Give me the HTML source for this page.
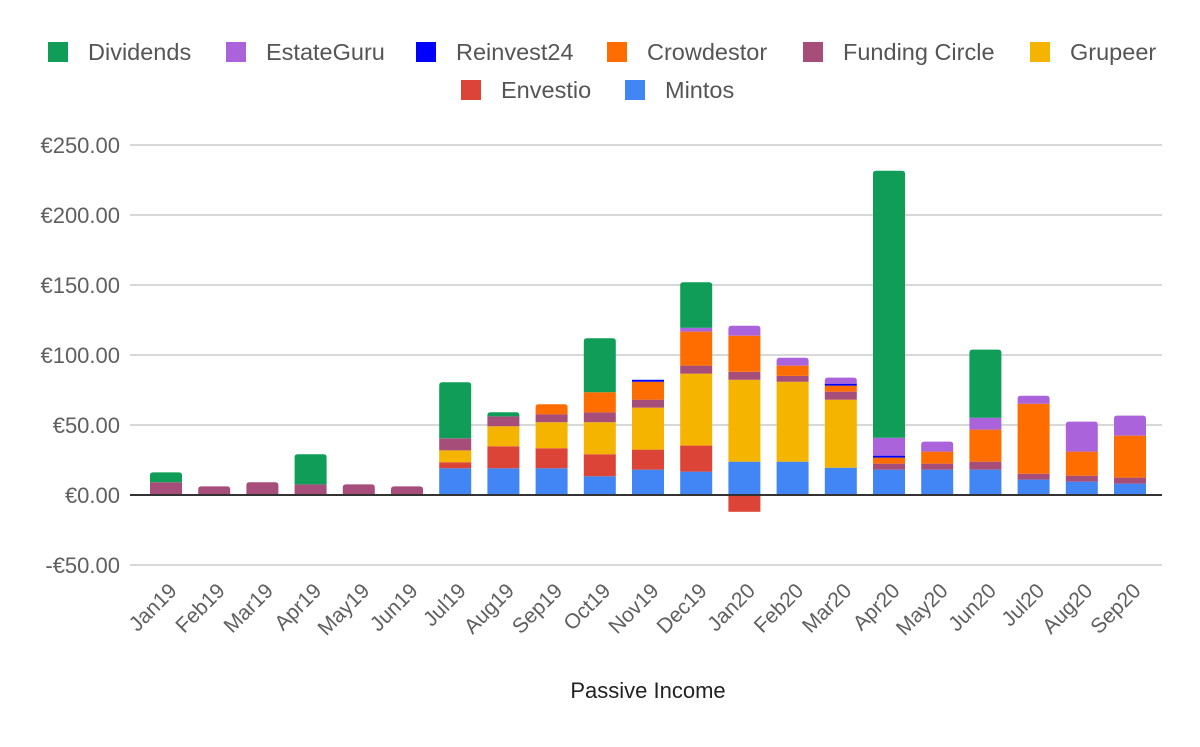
<!DOCTYPE html>
<html><head><meta charset="utf-8"><style>
body{margin:0;background:#fff;font-family:"Liberation Sans",sans-serif}
svg text{font-family:"Liberation Sans",sans-serif}
</style></head><body>
<svg id="chart" width="1200" height="742">
<rect width="1200" height="742" fill="#fff"/>
<g id="grid"></g><g id="bars"></g><g id="xlabels"></g><g id="legend"></g>
<line x1="130" x2="1162" y1="495" y2="495" stroke="#333" stroke-width="2"/>
<text x="648" y="698" text-anchor="middle" font-size="22" fill="#222">Passive Income</text>
</svg>
<script>
const months=["Jan19","Feb19","Mar19","Apr19","May19","Jun19","Jul19","Aug19","Sep19","Oct19","Nov19","Dec19","Jan20","Feb20","Mar20","Apr20","May20","Jun20","Jul20","Aug20","Sep20"];
const mintos=[0,0,0,0,0,0,19.1,19.1,19.1,13.4,18.1,16.7,23.8,23.8,19.5,18.1,18.1,18.1,11,9.5,8.1];
const envestio=[0,0,0,0,0,0,4.3,15.7,14.3,15.7,14.3,18.6,-12,0,0,0,0,0,0,0,0];
const grupeer=[0,0,0,0,0,0,8.5,14.3,18.6,22.9,30,51.4,58.5,57.1,48.6,0,0,0,0,0,0];
const fundingCircle=[9.1,6.2,9.1,7.6,7.6,6.2,8.6,7.1,5.6,7,5.7,5.7,5.7,4.2,5.7,4.3,4.3,5.7,4.2,4.3,4.3];
const crowdestor=[0,0,0,0,0,0,0,0,7.2,14.4,12.8,24.3,25.8,7.3,4.3,4.3,8.6,22.9,50,17.2,30];
const reinvest24=[0,0,0,0,0,0,0,0,0,0,1.4,0,0,0,1.4,1.4,0,0,0,0,0];
const estateGuru=[0,0,0,0,0,0,0,0,0,0,0,2.8,7.1,5.6,4.3,12.8,7.1,8.5,5.7,21.4,14.3];
const dividends=[7.1,0,0,21.5,0,0,40,2.9,0,38.6,0,32.5,0,0,0,190.7,0,48.6,0,0,0];
const yTicks=[-50,0,50,100,150,200,250];
const yTickLabels=["-€50.00","€0.00","€50.00","€100.00","€150.00","€200.00","€250.00"];
const seriesNames=["Mintos","Envestio","Grupeer","Funding Circle","Crowdestor","Reinvest24","EstateGuru","Dividends"];
const seriesData=[mintos,envestio,grupeer,fundingCircle,crowdestor,reinvest24,estateGuru,dividends];
const colors=["#4285f4","#db4437","#f4b400","#a64d79","#ff6d00","#0000ff","#ab63dc","#0f9d58"];
const NS="http://www.w3.org/2000/svg";
const y=v=>495-v*1.4;
const xc=i=>166+i*48.2;
const bw=32;
function mk(tag,attrs,parent){const e=document.createElementNS(NS,tag);for(const k in attrs)e.setAttribute(k,attrs[k]);parent.appendChild(e);return e;}
const grid=document.getElementById('grid');
yTicks.forEach((t,i)=>{
  if(t!==0){const l=mk('line',{x1:130,x2:1162,y1:y(t),y2:y(t),stroke:'#ccc','stroke-width':1.5},grid);
  
  }
  const tx=mk('text',{x:120,y:y(t)+8,'text-anchor':'end','font-size':22,fill:'#5f5f5f'},grid);
  tx.textContent=yTickLabels[i];
  
  
});
const bars=document.getElementById('bars');
months.forEach((m,i)=>{
  let pos=0,neg=0;
  let lastK=-1;
  seriesData.forEach((s,k)=>{if(s[i]>0)lastK=k;});
  seriesData.forEach((s,k)=>{
    const v=s[i];if(!v)return;
    let y0,y1;
    if(v>0){y0=pos;y1=pos+v;pos=y1;}else{y0=neg+v;y1=neg;neg=y0;}
    const x0=xc(i)-bw/2,top=y(y1),bot=y(y0);
    let r;
    if(k===lastK&&v>0&&bot-top>4){
      const rr=3;
      r=mk('path',{d:`M${x0},${bot}V${top+rr}Q${x0},${top} ${x0+rr},${top}H${x0+bw-rr}Q${x0+bw},${top} ${x0+bw},${top+rr}V${bot}Z`,fill:colors[k]},bars);
    }else{
      r=mk('rect',{x:x0,y:top,width:bw,height:bot-top,fill:colors[k]},bars);
    }
    
    
  });
  const t=mk('text',{x:xc(i)+12,y:592,'text-anchor':'end','font-size':21,fill:'#5f5f5f',transform:`rotate(-45 ${xc(i)+12} 592)`},document.getElementById('xlabels'));
  t.textContent=m;
  
  
});
const legendItems=[["Dividends",48,52,7],["EstateGuru",226,52,6],["Reinvest24",416,52,5],["Crowdestor",607,52,4],["Funding Circle",803,52,3],["Grupeer",1030,52,2],["Envestio",461,90,1],["Mintos",625,90,0]];
const lg=document.getElementById('legend');
legendItems.forEach(([n,x,yy,k])=>{
  const g=mk('g',{},lg);
  
  
  mk('rect',{x:x,y:yy-10,width:20,height:20,fill:colors[k]},g);
  const t=mk('text',{x:x+40,y:yy+8,'font-size':23.5,fill:'#555'},g);
  t.textContent=n;
});
</script>
</body></html>
